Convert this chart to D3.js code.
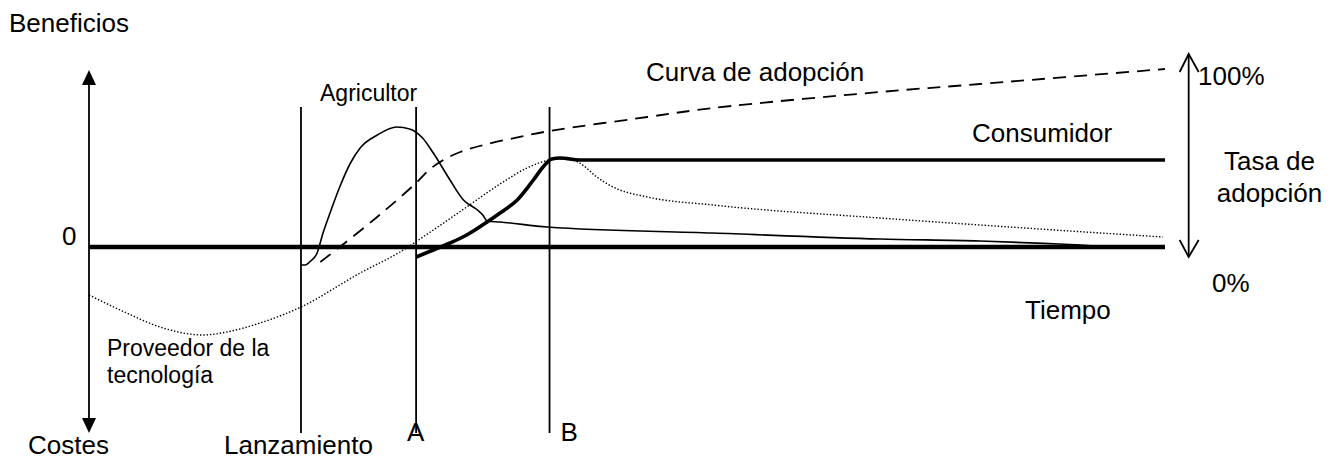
<!DOCTYPE html>
<html>
<head>
<meta charset="utf-8">
<script src="https://cdn.jsdelivr.net/npm/d3@7"></script>
<style>
  body { margin: 0; background: #fff; }
  text { font-family: "Liberation Sans", Arial, Helvetica, sans-serif; fill: #000; }
</style>
</head>
<body>
<svg id="graph" width="1340" height="459"></svg>
<script>
// time axis runs 0..100, benefits in arbitrary units (0 = break-even), adoption in %
let event_names = ["Lanzamiento", "A", "B"];
let event_times = [19.7, 30.4, 42.8];

// technology provider (dotted)
let provider = [
  [0, -2.4], [3.5, -3.3], [6.6, -4.0], [10.6, -4.4], [12.8, -4.25], [15.9, -3.8],
  [19.7, -3.0], [25.2, -1.3], [28.9, -0.25], [32.0, 0.85], [35.1, 2.0], [38.2, 3.15],
  [40.7, 3.95], [42.4, 4.3], [43.8, 4.4], [44.9, 4.35], [45.6, 4.2], [47.2, 3.5],
  [48.7, 3.0], [51.9, 2.5], [58.0, 2.1], [73.5, 1.45], [82.8, 1.1], [99.8, 0.5]
];

// farmer (thin solid)
let farmer = [
  [19.7, -0.9], [20.1, -0.9], [20.5, -0.75], [21.2, -0.3], [21.75, 0.7], [22.4, 1.7],
  [23.3, 3.0], [24.3, 4.2], [25.2, 4.95], [26.8, 5.6], [28.6, 6.0], [29.8, 5.9],
  [31.0, 5.45], [32.0, 4.7], [33.55, 3.35], [34.8, 2.35], [36.1, 1.85], [36.6, 1.6],
  [37.0, 1.3], [38.2, 1.25], [42.6, 1.0], [58.0, 0.7], [73.5, 0.4], [82.8, 0.3],
  [90.2, 0.15], [96.75, 0], [100, 0]
];

// consumer (thick solid)
let consumer = [
  [30.4, -0.5], [32.0, -0.15], [33.55, 0.2], [35.1, 0.6], [37.0, 1.25], [38.2, 1.7],
  [39.8, 2.35], [41.3, 3.35], [42.2, 4.0], [43.0, 4.4], [43.8, 4.45], [45.6, 4.35],
  [100, 4.35]
];

// adoption curve (dashed), percent of adopters
let adoption = [
  [21.5, 0], [23.3, 7.5], [27.0, 23.5], [30.4, 39.5], [31.7, 46.5], [33.1, 51.5],
  [34.5, 55], [36.3, 58], [39.1, 61.5], [42.8, 65.5], [51.9, 72.5], [58.0, 77],
  [73.5, 85], [82.8, 89], [100, 96.5]
];

let graph = d3.select("#graph");

let x = d3.scaleLinear().domain([0, 100]).range([89, 1165]);
let y = d3.scaleLinear().domain([-10, 10]).range([447, 47]);
let yRate = d3.scaleLinear().domain([0, 100]).range([262, 62]);

let line = d3.line().x(function(d) { return x(d[0]); }).y(function(d) { return y(d[1]); }).curve(d3.curveMonotoneX);
let lineRate = d3.line().x(function(d) { return x(d[0]); }).y(function(d) { return yRate(d[1]); }).curve(d3.curveCatmullRom.alpha(0.5));

//event lines
graph.append("g").selectAll("line").data(event_times).enter().append("line")
  .attr("x1", function(d) { return x(d); }).attr("x2", function(d) { return x(d); })
  .attr("y1", y(7)).attr("y2", y(-9.3))
  .style("stroke", "#000").style("stroke-width", 1.8);

//left axis with filled arrows
let ax = x(0), top_y = y(8.85), bot_y = y(-9.3);
graph.append("line").attr("x1", ax).attr("x2", ax).attr("y1", top_y + 4).attr("y2", bot_y - 4)
  .style("stroke", "#000").style("stroke-width", 1.8);
graph.append("path").attr("d", "M" + ax + "," + top_y + "L" + (ax - 7) + "," + (top_y + 15) + "L" + (ax + 7) + "," + (top_y + 15) + "Z");
graph.append("path").attr("d", "M" + ax + "," + bot_y + "L" + (ax - 7) + "," + (bot_y - 15) + "L" + (ax + 7) + "," + (bot_y - 15) + "Z");

//right axis (adoption rate) with open arrows
let rx = x(102.2), r_top = yRate(104), r_bot = yRate(2.5);
let rgt = graph.append("g").style("fill", "none").style("stroke", "#000").style("stroke-width", 1.8);
rgt.append("line").attr("x1", rx).attr("x2", rx).attr("y1", r_top).attr("y2", r_bot);
rgt.append("polyline").attr("points", (rx - 9) + "," + (r_top + 18) + " " + rx + "," + r_top + " " + (rx + 10) + "," + (r_top + 18));
rgt.append("polyline").attr("points", (rx - 9) + "," + (r_bot - 17) + " " + rx + "," + r_bot + " " + (rx + 10) + "," + (r_bot - 17));

//curves
graph.append("path").datum(provider).attr("d", line)
  .style("fill", "none").style("stroke", "#000").style("stroke-width", 1.4).style("stroke-dasharray", "1.4,1.9");
graph.append("path").datum(adoption).attr("d", lineRate)
  .style("fill", "none").style("stroke", "#000").style("stroke-width", 1.8).style("stroke-dasharray", "13,8");
graph.append("path").datum(farmer).attr("d", line)
  .style("fill", "none").style("stroke", "#000").style("stroke-width", 1.6);
graph.append("path").datum(consumer).attr("d", line)
  .style("fill", "none").style("stroke", "#000").style("stroke-width", 3.6).style("stroke-linejoin", "round");

//zero line
graph.append("line").attr("x1", x(0)).attr("x2", x(100)).attr("y1", y(0)).attr("y2", y(0))
  .style("stroke", "#000").style("stroke-width", 4.6);

//labels
let labels = [
  {text: "Beneficios", x: 9, y: 32, size: 26},
  {text: "0", x: 62, y: 245, size: 26},
  {text: "Costes", x: 28, y: 454, size: 26},
  {text: "Agricultor", x: 320, y: 101, size: 23},
  {text: "Proveedor de la", x: 107, y: 356, size: 23},
  {text: "tecnología", x: 107, y: 383, size: 23},
  {text: "Curva de adopción", x: 646, y: 81, size: 26},
  {text: "Consumidor", x: 972, y: 142, size: 26},
  {text: "100%", x: 1198, y: 85, size: 26},
  {text: "Tasa de", x: 1269.5, y: 170, size: 26, anchor: "middle"},
  {text: "adopción", x: 1269.5, y: 202, size: 26, anchor: "middle"},
  {text: "0%", x: 1212, y: 292, size: 26},
  {text: "Tiempo", x: 1025, y: 319, size: 26}
];
graph.append("g").selectAll("text").data(labels).enter().append("text")
  .attr("x", function(d) { return d.x; }).attr("y", function(d) { return d.y; })
  .attr("text-anchor", function(d) { return d.anchor || "start"; })
  .style("font-size", function(d) { return d.size + "px"; })
  .text(function(d) { return d.text; });

//event names under the lines
let event_dx = [-77, -9, 11];
graph.append("g").selectAll("text").data(event_names).enter().append("text")
  .attr("x", function(d, i) { return x(event_times[i]) + event_dx[i]; })
  .attr("y", function(d, i) { return i == 0 ? 454 : 441; })
  .style("font-size", "26px")
  .text(function(d) { return d; });
</script>
</body>
</html>
